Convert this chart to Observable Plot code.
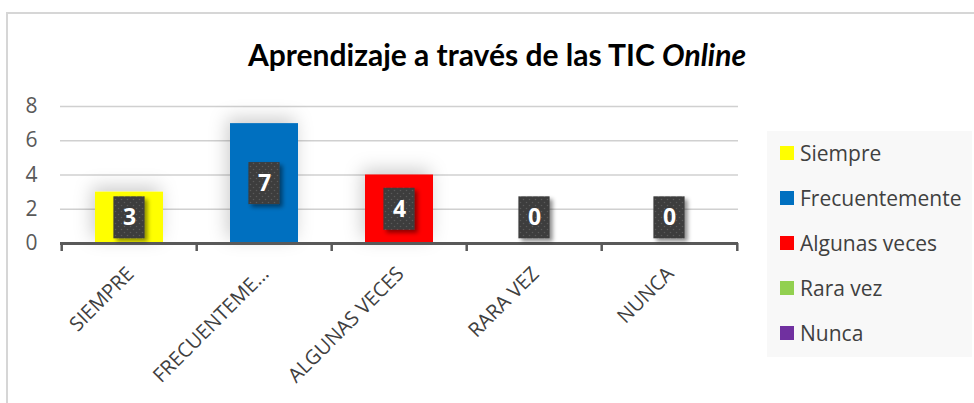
<!DOCTYPE html>
<html><head><meta charset="utf-8">
<script src="https://cdn.jsdelivr.net/npm/d3@7"></script>
<script src="https://cdn.jsdelivr.net/npm/@observablehq/plot@0.6"></script>
<style>
body{margin:0;background:#fff;font-family:"Open Sans",sans-serif;}
#wrap{position:relative;width:974px;height:403px;overflow:hidden;}
#frame{position:absolute;left:6px;top:12px;width:1000px;height:500px;border-top:2px solid #d6d6d6;border-left:2px solid #d6d6d6;}
#title{position:absolute;left:0;width:994px;top:36px;text-align:center;font-family:Lato,sans-serif;font-weight:bold;font-size:30px;color:#000;white-space:nowrap;}
#chart{position:absolute;left:0;top:0;}
#legend{position:absolute;left:767px;top:131px;width:205px;height:226px;background:#f8f8f8;}
.item{position:absolute;left:13px;height:28px;font-size:21px;line-height:28px;color:#404040;display:flex;align-items:center;white-space:nowrap;}
.sw{width:14px;height:14px;margin-right:6px;flex:none;}
</style>
</head><body>
<div id="wrap">
  <div id="frame"></div>
  <div id="title">Aprendizaje a través de las TIC <i>Online</i></div>
  <div id="chart"></div>
  <div id="legend"></div>
</div>
<script>
const categories = ["SIEMPRE", "FRECUENTEMENTE", "ALGUNAS VECES", "RARA VEZ", "NUNCA"];
const tickLabels = ["SIEMPRE", "FRECUENTEME…", "ALGUNAS VECES", "RARA VEZ", "NUNCA"];
const values = [3, 7, 4, 0, 0];
const colors = ["#FFFF00", "#0070C0", "#FF0000", "#92D050", "#7030A0"];
const legendLabels = ["Siempre", "Frecuentemente", "Algunas veces", "Rara vez", "Nunca"];
const yTicks = [0, 2, 4, 6, 8];

const data = categories.map((c, i) => ({cat: c, value: values[i], color: colors[i], lab: Math.max(values[i] / 2, 1.5)}));
const halfStep = (738 - 60) / categories.length / 2;

const chart = Plot.plot({
  width: 974, height: 403,
  marginLeft: 60, marginRight: 236, marginTop: 106, marginBottom: 160,
  x: {domain: categories, paddingInner: 0.5, paddingOuter: 0.25, axis: null},
  y: {domain: [0, 8], axis: null},
  color: {type: "identity"},
  style: {fontFamily: "'Open Sans', sans-serif", background: "transparent", overflow: "visible"},
  marks: [
    Plot.gridY(yTicks, {stroke: "#d0d0d0", strokeOpacity: 1, strokeWidth: 1.5}),
    Plot.axisY(yTicks, {tickSize: 0, tickPadding: 23, fontSize: 21, fill: "#595959", label: null}),
    Plot.barY(data, {x: "cat", y: "value", fill: "color"}),
    Plot.ruleY([0], {stroke: "#595959", strokeWidth: 2.8}),
    Plot.ruleX(categories, {x: d => d, y1: 0, y2: 0, dx: -halfStep, insetBottom: -8, stroke: "#595959", strokeWidth: 2.5}),
    Plot.ruleX(categories.slice(-1), {x: d => d, y1: 0, y2: 0, dx: halfStep, insetBottom: -8, stroke: "#595959", strokeWidth: 2.5}),
    Plot.barY(data, {x: "cat", y1: "lab", y2: "lab", insetTop: -21, insetBottom: -21, insetLeft: 18.4, insetRight: 18.4, fill: "#404040"}),
    Plot.text(data, {x: "cat", y: "lab", text: d => String(d.value), fill: "white", fontWeight: "bold", fontSize: 23}),
    Plot.axisX({tickSize: 0, tickRotate: -45, tickPadding: 27, dx: 1, fontSize: 20, fill: "#404040", label: null,
      tickFormat: d => tickLabels[categories.indexOf(d)]})
  ]
});

// defs: shadows and dotted pattern for the data-label boxes
const ns = "http://www.w3.org/2000/svg";
const defs = document.createElementNS(ns, "defs");
defs.innerHTML = `
  <filter id="barShadow" x="-50%" y="-50%" width="200%" height="200%">
    <feDropShadow dx="-3" dy="-5" stdDeviation="9" flood-color="#000" flood-opacity="0.2"/>
  </filter>
  <filter id="boxShadow" x="-50%" y="-50%" width="200%" height="200%">
    <feDropShadow dx="3" dy="3" stdDeviation="2" flood-color="#000" flood-opacity="0.45"/>
  </filter>
  <pattern id="dots" width="6" height="6" patternUnits="userSpaceOnUse">
    <rect width="6" height="6" fill="#3c3c3c"/>
    <circle cx="1.5" cy="1.5" r="0.8" fill="#5a5a5a"/>
    <circle cx="4.5" cy="4.5" r="0.8" fill="#5a5a5a"/>
  </pattern>`;
chart.insertBefore(defs, chart.firstChild);
const barGroups = chart.querySelectorAll('g[aria-label="bar"]');
barGroups[0].setAttribute("filter", "url(#barShadow)");
barGroups[1].setAttribute("filter", "url(#boxShadow)");
barGroups[1].querySelectorAll("rect").forEach(r => r.setAttribute("fill", "url(#dots)"));
document.getElementById("chart").appendChild(chart);

// legend
const legend = document.getElementById("legend");
legendLabels.forEach((l, i) => {
  const it = document.createElement("div");
  it.className = "item";
  it.style.top = (8 + i * 45) + "px";
  it.innerHTML = `<span class="sw" style="background:${colors[i]}"></span><span>${l}</span>`;
  legend.appendChild(it);
});
</script>
</body></html>
